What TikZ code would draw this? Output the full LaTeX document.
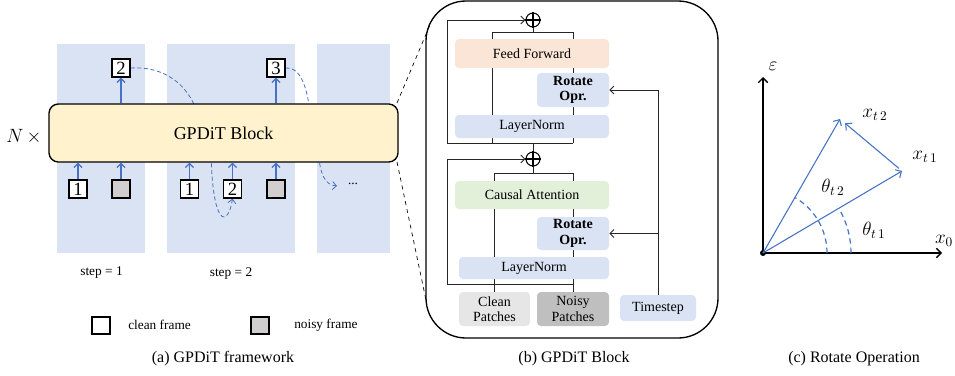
\documentclass[tikz,border=0pt]{standalone}
\usepackage{fontspec}
\setmainfont{Liberation Serif}
\usetikzlibrary{arrows.meta}
\definecolor{colblue}{HTML}{DAE3F3}
\definecolor{blockyellow}{HTML}{FFF2CC}
\definecolor{ffor}{HTML}{FBE5D6}
\definecolor{cagreen}{HTML}{E2F0D9}
\definecolor{cleangray}{HTML}{E7E6E6}
\definecolor{noisygray}{HTML}{BFBFBF}
\definecolor{framegray}{HTML}{D0CECE}
\definecolor{arrblue}{HTML}{4472C4}
\pgfdeclarelayer{bgzero}
\pgfdeclarelayer{bgone}
\pgfsetlayers{bgzero,bgone,main}
\begin{document}
\begin{tikzpicture}[x=0.75pt,y=-0.75pt,
  frm/.style={draw=black,line width=1pt,minimum size=13.5pt,inner sep=0pt,font=\fontsize{14}{14}\selectfont},
  bluearr/.style={draw=arrblue,line width=0.9pt,-{Straight Barb[length=3pt,width=6pt]}},
  bluedash/.style={draw=arrblue,line width=0.6pt,dash pattern=on 3pt off 2pt},
  pbox/.style={rounded corners=3pt,inner sep=0pt,align=center,font=\fontsize{10.5}{11.5}\selectfont},
  bline/.style={draw=black!85,line width=0.75pt},
  barr/.style={bline,-{Straight Barb[length=3pt,width=6pt]}},
  axarr/.style={draw=black,line width=1pt,-{Straight Barb[length=3.5pt,width=7pt]}},
  vecarr/.style={draw=arrblue,line width=0.8pt,-{Straight Barb[length=3.5pt,width=7pt]}},
  mlab/.style={font=\fontsize{14}{14}\selectfont,inner sep=0pt},
  captxt/.style={font=\fontsize{12}{12}\selectfont,inner sep=0pt},
  smalltxt/.style={font=\fontsize{10}{10}\selectfont,inner sep=0pt}]
\useasboundingbox (0,0) rectangle (955,375);

% ---------- panel (a) ----------
\begin{pgfonlayer}{bgzero}
\fill[colblue] (57,44) rectangle (145,253);
\fill[colblue] (167,44) rectangle (295,253);
\fill[colblue] (317,44) rectangle (390,253);
\end{pgfonlayer}

\node[draw=black,fill=blockyellow,rounded corners=7pt,line width=1pt,minimum width=261.75pt,minimum height=43.5pt,font=\fontsize{13.5}{14}\selectfont] (block) at (223.5,133) {GPDiT Block};
\node[font=\fontsize{14}{14}\selectfont,inner sep=0pt] (nx) at (24,137) {$N\,\times$};

\node[frm,fill=white] (top2) at (121,68) {2};
\node[frm,fill=white] (top3) at (276,68) {3};
\node[frm,fill=white] (b1) at (78,189) {1};
\node[frm,fill=framegray] (bg1) at (121,189) {};
\node[frm,fill=white] (c1) at (189.5,189) {1};
\node[frm,fill=white] (c2) at (232.5,189) {2};
\node[frm,fill=framegray] (cg) at (276,189) {};
\node[smalltxt] (dots) at (353,184) {...};

\draw[bluearr] (top2 |- block.north) -- (top2.south);
\draw[bluearr] (top3 |- block.north) -- (top3.south);
\foreach \n in {b1,bg1,c1,c2,cg}{\draw[bluearr] (\n.north) -- (\n |- block.south);}

\coordinate (h1) at (197,112);
\coordinate (h2) at (211,150);
\coordinate (h3) at (310,115);
\coordinate (h4) at (318,150);
\coordinate (dend) at (337,186);
\begin{pgfonlayer}{bgone}
\draw[bluedash] (top2.east) .. controls (165,66) and (188,85) .. (h1);
\draw[bluedash,-{Straight Barb[length=3pt,width=6pt]}] (h2) .. controls (212,228) and (228,228) .. (c2.south);
\draw[bluedash] (top3.east) .. controls (300,66) and (308,88) .. (h3);
\draw[bluedash,-{Straight Barb[length=3pt,width=6pt]}] (h4) .. controls (320,175) and (325,185) .. (dend);
\end{pgfonlayer}

\node[smalltxt] (s1) at (101.5,273) {step = 1};
\node[smalltxt] (s2) at (231,273) {step = 2};

\node[draw=black,line width=0.8pt,fill=white,minimum width=13.5pt,minimum height=12.75pt,inner sep=0pt] (lg1) at (101,325.5) {};
\node[smalltxt,anchor=west] (lt1) at (128,325) {clean frame};
\node[draw=black,line width=0.8pt,fill=framegray,minimum width=13.5pt,minimum height=12.75pt,inner sep=0pt] (lg2) at (260,325.5) {};
\node[smalltxt,anchor=west] (lt2) at (294,325) {noisy frame};

\node[captxt] (capa) at (223,359) {(a) GPDiT framework};

% ---------- panel (b) ----------
\node[draw=black,line width=1pt,rounded corners=30pt,minimum width=219pt,minimum height=252.75pt,inner sep=0pt] (outer) at (572,169.5) {};
\coordinate (zt) at (432,20);
\coordinate (zb) at (426,300);
\draw[dashed,line width=0.5pt] (397,103) -- (zt);
\draw[dashed,line width=0.5pt] (397,162) -- (zb);

\node[circle,draw=black,line width=0.8pt,minimum size=10.5pt,inner sep=0pt] (p1) at (533,20) {};
\draw[line width=0.8pt] (p1.north) -- (p1.south) (p1.west) -- (p1.east);
\node[circle,draw=black,line width=0.8pt,minimum size=10.5pt,inner sep=0pt] (p2) at (533,159) {};
\draw[line width=0.8pt] (p2.north) -- (p2.south) (p2.west) -- (p2.east);

\node[pbox,fill=ffor,minimum width=115.5pt,minimum height=21.75pt] (ff) at (532,53.5) {Feed Forward};
\node[pbox,fill=colblue,minimum width=54pt,minimum height=25.5pt,font=\fontsize{10.5}{11.5}\selectfont\bfseries] (ro1) at (573,90) {Rotate\\Opr.};
\node[pbox,fill=colblue,minimum width=115.5pt,minimum height=17.25pt] (ln1) at (532,126.5) {LayerNorm};
\node[pbox,fill=cagreen,minimum width=115.5pt,minimum height=21pt] (ca) at (532,195) {Causal Attention};
\node[pbox,fill=colblue,minimum width=54pt,minimum height=24.75pt,font=\fontsize{10.5}{11.5}\selectfont\bfseries] (ro2) at (573,233.5) {Rotate\\Opr.};
\node[pbox,fill=colblue,minimum width=112.5pt,minimum height=16.5pt] (ln2) at (534,268) {LayerNorm};
\node[pbox,fill=cleangray,minimum width=53.25pt,minimum height=25.5pt] (cp) at (494.5,309) {Clean\\Patches};
\node[pbox,fill=noisygray,minimum width=54pt,minimum height=25.5pt] (np) at (573,309) {Noisy\\Patches};
\node[pbox,fill=colblue,minimum width=57pt,minimum height=19.5pt] (ts) at (658,308) {Timestep};

\coordinate (ul) at (447,143);
\coordinate (ur) at (573,143);
\coordinate (ll) at (447,284);
\coordinate (lr) at (573,284);
\begin{pgfonlayer}{bgone}
\draw[bline] (p2.north) -- (533,143);
\draw[bline] (ul) -- (ur);
\draw[barr] (ul) |- (p1.west);
\draw[bline] (p1.south) -- (533,32);
\draw[bline] (492,143) -- (492,32) -- (573,32) -- (ur);
\draw[bline] (p2.south) -- (533,173);
\draw[bline] (cp.north) -- (494.5,173) -- (573,173) -- (np.north);
\draw[bline] (ll) -- (lr);
\draw[barr] (ll) |- (p2.west);
\draw[barr] (ts.north) |- (ro1.east);
\draw[barr] (ts.north |- ro2.east) -- (ro2.east);
\end{pgfonlayer}

\node[captxt] (capb) at (574,359) {(b) GPDiT Block};

% ---------- panel (c) ----------
\node[circle,fill=black,inner sep=0pt,minimum size=4.5pt] (O) at (763,253) {};
\coordinate (ey) at (763,77);
\coordinate (ex) at (942,253);
\coordinate (v1) at (902,171);
\coordinate (v2) at (840,119);
\draw[axarr] (O.center) -- (ey);
\draw[axarr] (O.center) -- (ex);
\draw[vecarr] (O.center) -- (v1);
\draw[vecarr] (O.center) -- (v2);
\draw[vecarr,shorten <=3pt,shorten >=5pt] (v1) -- (v2);
\draw[draw=arrblue,line width=0.9pt,dash pattern=on 4pt off 3pt] (827,253) arc[start angle=0,end angle=-60,radius=64];
\draw[draw=arrblue,line width=0.9pt,dash pattern=on 4pt off 3pt] (851,253) arc[start angle=0,end angle=-30,radius=88];
\node[mlab] (le) at (773,66) {$\varepsilon$};
\node[mlab] (lx0) at (944,241) {$x_0$};
\node[mlab] (lxt2) at (875,115) {$x_{t\,2}$};
\node[mlab] (lxt1) at (925,157) {$x_{t\,1}$};
\node[mlab] (lth2) at (833,187) {$\theta_{t\,2}$};
\node[mlab] (lth1) at (874,230) {$\theta_{t\,1}$};

\node[captxt] (capc) at (854,359) {(c) Rotate Operation};
\end{tikzpicture}
\end{document}
